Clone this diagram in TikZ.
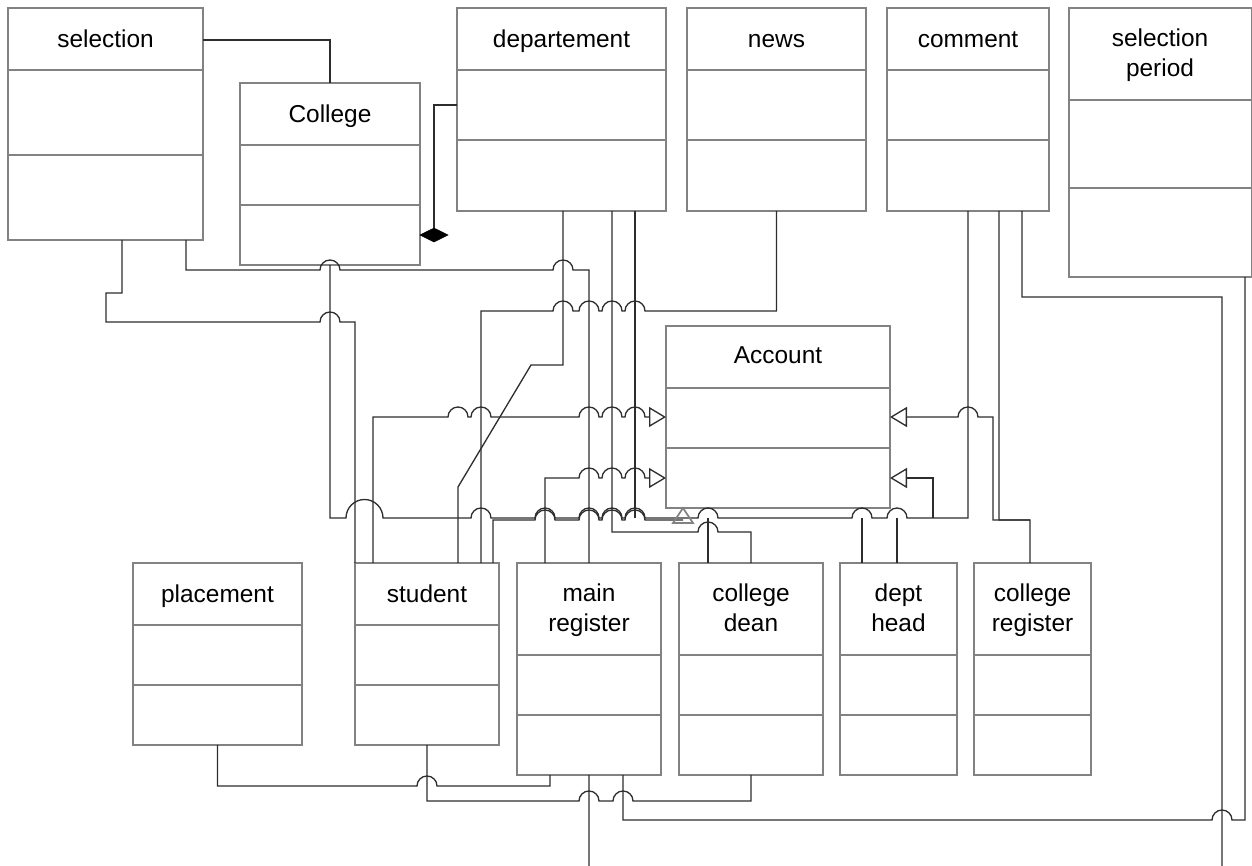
\documentclass[tikz,border=0pt]{standalone}
\usepackage{fontspec}
\setmainfont{Liberation Sans}
\usetikzlibrary{arrows.meta,shapes.geometric}
\definecolor{boxgray}{RGB}{130,130,130}
\definecolor{wirecol}{RGB}{45,45,45}

\begin{document}
\begin{tikzpicture}[x=0.02cm,y=0.02cm,
  cls/.style={draw=boxgray,line width=1pt,inner sep=0pt,outer sep=0pt,anchor=north west},
  sep/.style={draw=boxgray,line width=1pt},
  txt/.style={font=\fontsize{13.9}{17}\selectfont,align=center,inner sep=0pt,execute at begin node=\strut},
  wire/.style={draw=wirecol,line width=0.75pt},
  isa/.style={wire,-{Triangle[open,length=0.34cm,width=0.4cm]}}]
  \useasboundingbox (0,0) rectangle (1252,-866);

  % classes
  \node[cls,minimum width=3.9cm,minimum height=4.64cm] (selection) at (8,-8) {};
  \draw[sep] (selection.north west) ++(0,-62) -- ++(195,0);
  \draw[sep] (selection.north west) ++(0,-147) -- ++(195,0);
  \node[txt] (selectionT) at (105.5,-42) {selection};

  \node[cls,minimum width=3.6cm,minimum height=3.64cm] (College) at (240,-83) {};
  \draw[sep] (College.north west) ++(0,-62) -- ++(180,0);
  \draw[sep] (College.north west) ++(0,-122) -- ++(180,0);
  \node[txt] (CollegeT) at (330,-117) {College};

  \node[cls,minimum width=4.18cm,minimum height=4.06cm] (departement) at (457,-8) {};
  \draw[sep] (departement.north west) ++(0,-62) -- ++(209,0);
  \draw[sep] (departement.north west) ++(0,-132) -- ++(209,0);
  \node[txt] (departementT) at (561.5,-42) {departement};

  \node[cls,minimum width=3.58cm,minimum height=4.06cm] (news) at (687,-8) {};
  \draw[sep] (news.north west) ++(0,-62) -- ++(179,0);
  \draw[sep] (news.north west) ++(0,-132) -- ++(179,0);
  \node[txt] (newsT) at (776.5,-42) {news};

  \node[cls,minimum width=3.24cm,minimum height=4.06cm] (comment) at (887,-8) {};
  \draw[sep] (comment.north west) ++(0,-62) -- ++(162,0);
  \draw[sep] (comment.north west) ++(0,-132) -- ++(162,0);
  \node[txt] (commentT) at (968,-42) {comment};

  \node[cls,minimum width=3.66cm,minimum height=5.38cm] (period) at (1069,-8) {};
  \draw[sep] (period.north west) ++(0,-92) -- ++(183,0);
  \draw[sep] (period.north west) ++(0,-180) -- ++(183,0);
  \node[txt] (periodT) at (1160,-57) {selection\\\strut period};

  \node[cls,minimum width=4.48cm,minimum height=3.64cm] (Account) at (666,-326) {};
  \draw[sep] (Account.north west) ++(0,-62) -- ++(224,0);
  \draw[sep] (Account.north west) ++(0,-122) -- ++(224,0);
  \node[txt] (AccountT) at (778,-358) {Account};

  \node[cls,minimum width=3.38cm,minimum height=3.64cm] (placement) at (133,-563) {};
  \draw[sep] (placement.north west) ++(0,-62) -- ++(169,0);
  \draw[sep] (placement.north west) ++(0,-122) -- ++(169,0);
  \node[txt] (placementT) at (217.5,-597) {placement};

  \node[cls,minimum width=2.88cm,minimum height=3.64cm] (student) at (355,-563) {};
  \draw[sep] (student.north west) ++(0,-62) -- ++(144,0);
  \draw[sep] (student.north west) ++(0,-122) -- ++(144,0);
  \node[txt] (studentT) at (427,-597) {student};

  \node[cls,minimum width=2.88cm,minimum height=4.24cm] (mainreg) at (517,-563) {};
  \draw[sep] (mainreg.north west) ++(0,-92) -- ++(144,0);
  \draw[sep] (mainreg.north west) ++(0,-152) -- ++(144,0);
  \node[txt] (mainregT) at (589,-612) {main\\\strut register};

  \node[cls,minimum width=2.88cm,minimum height=4.24cm] (dean) at (679,-563) {};
  \draw[sep] (dean.north west) ++(0,-92) -- ++(144,0);
  \draw[sep] (dean.north west) ++(0,-152) -- ++(144,0);
  \node[txt] (deanT) at (751,-612) {college\\\strut dean};

  \node[cls,minimum width=2.34cm,minimum height=4.24cm] (head) at (840,-563) {};
  \draw[sep] (head.north west) ++(0,-92) -- ++(117,0);
  \draw[sep] (head.north west) ++(0,-152) -- ++(117,0);
  \node[txt] (headT) at (898.5,-612) {dept\\\strut head};

  \node[cls,minimum width=2.34cm,minimum height=4.24cm] (creg) at (974,-563) {};
  \draw[sep] (creg.north west) ++(0,-92) -- ++(117,0);
  \draw[sep] (creg.north west) ++(0,-152) -- ++(117,0);
  \node[txt] (cregT) at (1032.5,-612) {college\\\strut register};

  \node[diamond,aspect=2,fill=black,draw=black,inner sep=0pt,minimum width=0.56cm,minimum height=0.28cm] (dia) at (434,-235) {};

  % associations
  \draw[wire] (selection.north east) ++(0,-32) -| (College.north);
  \draw[wire] (departement.north west) ++(0,-97) -| (dia.north);
  \draw[wire] (selection.south east) ++(-17,0) -- (186,-270) -- (320,-270) arc (180:0:10) -- (553,-270) arc (180:0:10) -- (589,-270) -- (mainreg.north);
  \draw[wire] (selection.south) ++(16.5,0) -- (122,-293) -- (106,-293) -- (106,-322) -- (320,-322) arc (180:0:10) -- (355,-322) -- (student.north west);
  \draw[wire] (College.south) -- (330,-518) -- (346,-518) arc (180:0:18.5) -- (471,-518) arc (180:0:10) -- (535,-518) arc (180:0:10) -- (579,-518) arc (180:0:10) -- (602,-518) arc (180:0:10) -- (625,-518) arc (180:0:10) -- (698,-518) arc (180:0:10) -- (852,-518) arc (180:0:10) -- (887,-518) arc (180:0:10) -- (968,-518) -- (comment.south);
  \draw[wire] (student.north east) ++(-6,0) -- (493,-520) -- (535,-520) arc (180:0:10) -- (579,-520) arc (180:0:10) -- (602,-520) arc (180:0:10) -- (625,-520) arc (180:0:10) -- (683,-520);
  \draw[sep] (673,-523) -- (683,-508) -- (693,-523) -- cycle;
  \draw[wire] (departement.south west) ++(155,0) -- (612,-532) -- (698,-532) arc (180:0:10) -- (751,-532) -- (dean.north);
  \draw[wire] (departement.south west) ++(178,0) -- (635,-518);
  \draw[wire] (departement.south west) ++(106,0) -- (563,-365) -- (531,-365) -- (458,-487) -- (458,-563);
  \draw[wire] (news.south) -- (776.5,-311) -- (645,-311) arc (0:180:10) -- (622,-311) arc (0:180:10) -- (599,-311) arc (0:180:10) -- (573,-311) arc (0:180:10) -- (481,-311) -- (481,-563);

  % generalisations
  \draw[isa] (student.north west) ++(18,0) -- (373,-417) -- (448,-417) arc (180:0:10) -- (471,-417) arc (180:0:10) -- (579,-417) arc (180:0:10) -- (602,-417) arc (180:0:10) -- (625,-417) arc (180:0:10) -- (666,-417);
  \draw[isa] (mainreg.north west) ++(28,0) -- (545,-478) -- (579,-478) arc (180:0:10) -- (602,-478) arc (180:0:10) -- (625,-478) arc (180:0:10) -- (666,-478);
  \draw[wire] (dean.north west) ++(29,0) -- (708,-518);
  \draw[wire] (head.north west) ++(22,0) -- (862,-518);
  \draw[wire] (head.north west) ++(57,0) -- (897,-518);
  \draw[isa] (933,-518) -- (933,-478) -- (890,-478);
  \draw[isa] (creg.north west) ++(56,0) -- (1030,-520) -- (993,-520) -- (993,-417) -- (978,-417) arc (0:180:10) -- (890,-417);
  \draw[wire] (comment.south east) ++(-50,0) -- (999,-520) -- (1030,-520);

  % lower links
  \draw[wire] (comment.south east) ++(-27,0) -- (1022,-297) -- (1222,-297) -- (1222,-866);
  \draw[wire] (period.south east) ++(-7,0) -- (1245,-820) -- (1232,-820) arc (0:180:10) -- (623,-820) -- (623,-775);
  \draw[wire] (mainreg.south) -- (589,-866);
  \draw[wire] (placement.south) -- (217.5,-786) -- (417,-786) arc (180:0:10) -- (550,-786) -- (550,-775);
  \draw[wire] (student.south) -- (427,-801) -- (579,-801) arc (180:0:10) -- (613,-801) arc (180:0:10) -- (751,-801) -- (dean.south);
\end{tikzpicture}
\end{document}
